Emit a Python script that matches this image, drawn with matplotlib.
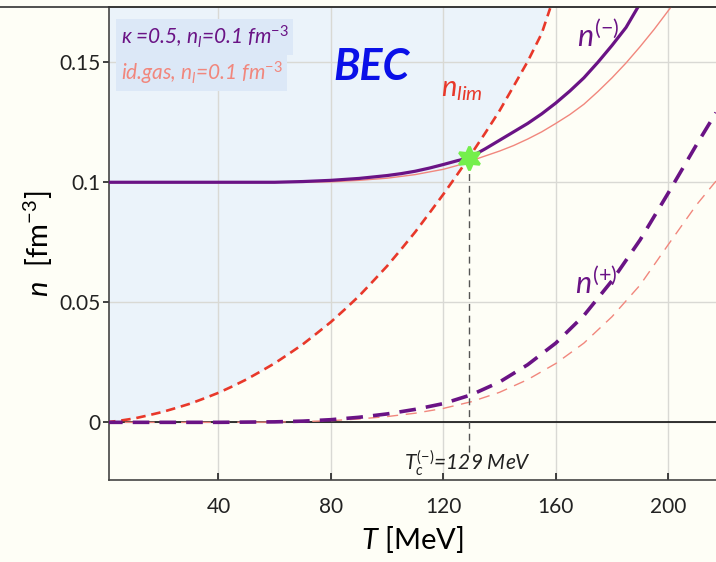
import matplotlib
matplotlib.use("Agg")
import matplotlib.pyplot as plt
from matplotlib.lines import Line2D

plt.rcParams['font.family'] = ['Lato', 'DejaVu Sans']
plt.rcParams['mathtext.fontset'] = 'custom'
plt.rcParams['mathtext.rm'] = 'Lato'
plt.rcParams['mathtext.it'] = 'Lato:italic'
plt.rcParams['mathtext.bf'] = 'Lato:bold'

# ---- data: temperature T [MeV] and densities n [fm^-3] ----
# critical (limiting) density for condensation
T_lim = [0, 5, 10, 15, 20, 25, 30, 35, 40, 45, 50, 55, 60, 65, 70, 75, 80, 85, 90,
         95, 100, 105, 110, 115, 120, 125, 129, 135, 140, 145, 150, 155, 158]
n_lim = [0.0, 0.0007, 0.0016, 0.0029, 0.0043, 0.0060, 0.0078, 0.0100, 0.0123,
         0.0150, 0.0179, 0.0212, 0.0246, 0.0285, 0.0325, 0.0371, 0.0418, 0.0471,
         0.0526, 0.0588, 0.0651, 0.0721, 0.0793, 0.0871, 0.0950, 0.1033, 0.1101,
         0.1207, 0.1298, 0.1400, 0.1503, 0.1620, 0.1725]

# n^(-) branch, interacting (kappa = 0.5)
T_minus = [0, 20, 40, 60, 70, 80, 90, 100, 105, 110, 115, 120, 125, 129, 135, 140,
           145, 150, 155, 160, 165, 170, 175, 180, 185, 189]
n_minus = [0.1, 0.1, 0.1, 0.1, 0.1003, 0.1008, 0.1016, 0.1028, 0.1036, 0.1046,
           0.1059, 0.1074, 0.1090, 0.1101, 0.1140, 0.1175, 0.1210, 0.1245, 0.1285,
           0.1330, 0.1380, 0.1435, 0.1500, 0.1570, 0.1645, 0.1725]

# n^(-) branch, ideal gas
T_minus_id = [0, 20, 40, 60, 80, 90, 100, 110, 120, 125, 130, 135, 140, 145, 150,
              155, 160, 165, 170, 175, 180, 185, 190, 195, 201]
n_minus_id = [0.1, 0.1, 0.1, 0.1, 0.1002, 0.1008, 0.1017, 0.1032, 0.1054, 0.1070,
              0.1090, 0.1110, 0.1130, 0.1153, 0.1180, 0.1210, 0.1245, 0.1282,
              0.1325, 0.1378, 0.1435, 0.1497, 0.1565, 0.1637, 0.1730]

# n^(+) branch, interacting
T_plus = [0, 20, 40, 60, 70, 80, 90, 100, 110, 120, 130, 140, 150, 160, 170, 180,
          190, 200, 210, 217]
n_plus = [0.0, 0.0, 0.0, 0.0002, 0.0005, 0.0011, 0.0021, 0.0035, 0.0054, 0.0078,
          0.0115, 0.0168, 0.0240, 0.0330, 0.0445, 0.0590, 0.0760, 0.0955, 0.1155,
          0.1290]

# n^(+) branch, ideal gas
T_plus_id = [0, 20, 40, 60, 70, 80, 90, 100, 110, 120, 130, 140, 150, 160, 170,
             180, 190, 200, 210, 217]
n_plus_id = [0.0, 0.0, 0.0, 0.0001, 0.0003, 0.0007, 0.0014, 0.0024, 0.0038, 0.0058,
             0.0086, 0.0125, 0.0178, 0.0245, 0.0330, 0.0440, 0.0572, 0.0740, 0.0905,
             0.1005]

T_c = 129
n_c = 0.1101

x_ticks = [40, 80, 120, 160, 200]
y_ticks = [0, 0.05, 0.1, 0.15]
y_ticklabels = ['0', '0.05', '0.1', '0.15']

# ---- styling ----
cream = '#fefef6'
bec_blue = '#ebf3fa'
purple = '#6a1385'
pink = '#f1877d'
red = '#e8382a'

fig = plt.figure(figsize=(7.16, 5.62), dpi=100, facecolor=cream)
ax = fig.add_axes([0.152, 0.146, 0.848, 0.8415])
ax.set_facecolor(cream)

x_lo, x_hi = 1, 217
y_lo, y_hi = -0.024, 0.173
ax.set_xlim(x_lo, x_hi)
ax.set_ylim(y_lo, y_hi)

# condensate region: above the critical density line
ax.fill_between(T_lim, n_lim, y_hi, color=bec_blue, lw=0, zorder=0)

ax.grid(True, color='#d9d9d4', lw=1.0, zorder=1)
ax.axhline(0, color='#111111', lw=1.2, zorder=2)

# ideal-gas reference curves
ax.plot(T_minus_id, n_minus_id, color=pink, lw=1.0, zorder=3, solid_joinstyle='round')
ax.plot(T_plus_id, n_plus_id, color=pink, lw=1.0, dashes=(8, 5.5), zorder=3)

# interacting system
ax.plot(T_lim, n_lim, color=red, lw=1.9, dashes=(3.6, 2.2), zorder=4)
ax.plot(T_minus, n_minus, color=purple, lw=2.3, zorder=5, solid_joinstyle='round')
ax.plot(T_plus, n_plus, color=purple, lw=2.6, dashes=(4.6, 2.8), zorder=5)

# critical temperature marker
ax.plot([T_c, T_c], [-0.0125, n_c], color='#555555', lw=1.0, dashes=(5, 3.5), zorder=3)
ax.plot([T_c], [n_c], marker=(6, 1, 0), ms=17, color='#74ef4c', mec='#74ef4c',
        mew=2, zorder=6)

ax.text(T_c - 0.5, -0.0170, r'$T_c^{(-)}$=129 MeV', fontsize=15, style='italic',
        color='#222222', ha='center', va='center', zorder=6)

# labels on the curves
ax.text(119.2, 0.1385, r'$n_{lim}$', fontsize=21, color=red, ha='left', va='center')
ax.text(167.5, 0.1610, r'$n^{(-)}$', fontsize=22, color=purple, ha='left', va='center')
ax.text(167.0, 0.0580, r'$n^{(+)}$', fontsize=22, color=purple, ha='left', va='center')
ax.text(94.5, 0.1480, 'BEC', fontsize=31, fontweight='bold', style='italic',
        color='#0a10e8', ha='center', va='center')

# legend entries
box = dict(facecolor='#dce8f7', edgecolor='none', pad=3.5)
ax.text(5.2, 0.1605, r'κ =0.5, $n_l$=0.1 fm$^{-3}$', fontsize=15, style='italic',
        color=purple, ha='left', va='center', bbox=box, zorder=7)
ax.text(5.2, 0.1455, r'id.gas, $n_l$=0.1 fm$^{-3}$', fontsize=15, style='italic',
        color=pink, ha='left', va='center', bbox=box, zorder=7)

# axes decoration
ax.set_xticks(x_ticks)
ax.set_yticks(y_ticks)
ax.set_yticklabels(y_ticklabels)
ax.tick_params(axis='both', labelsize=15, colors='#222222')
ax.tick_params(axis='x', direction='in', length=5, width=1.2, pad=12)
ax.tick_params(axis='y', direction='out', length=4, width=1.2, pad=2)

ax.spines['right'].set_visible(False)
for side in ('left', 'bottom', 'top'):
    ax.spines[side].set_color('#444444')
    ax.spines[side].set_linewidth(1.2)

ax.set_xlabel(r'$T$ [MeV]', fontsize=21, labelpad=5)
ax.set_ylabel(r'$n$  [fm$^{-3}$]', fontsize=21, labelpad=3)

fig.add_artist(Line2D([0, 1], [0.9875, 0.9875], color='#333333', lw=1.2,
                      transform=fig.transFigure))

fig.savefig('out.png', dpi=100, facecolor=cream)
